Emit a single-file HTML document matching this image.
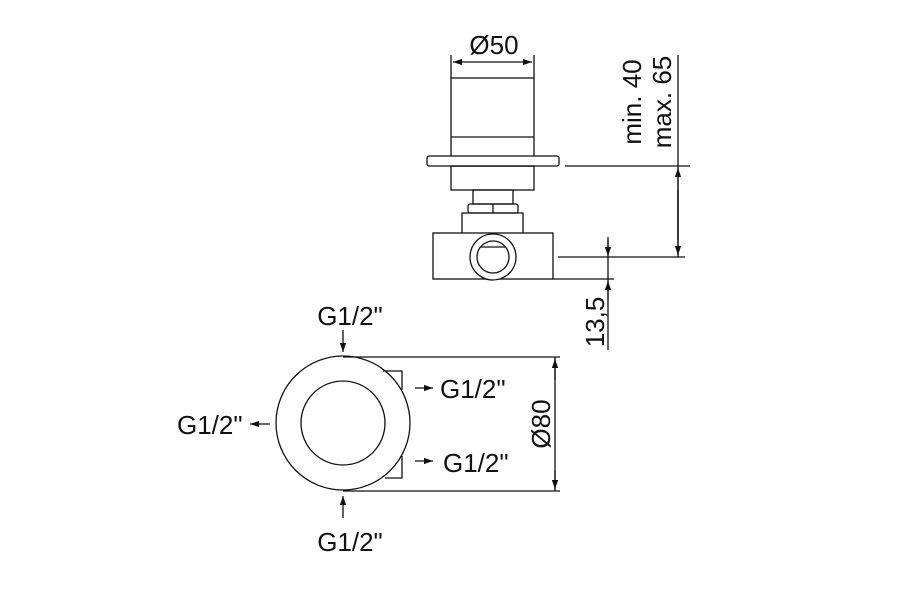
<!DOCTYPE html>
<html><head><style>body{margin:0;background:#fff}svg{display:block}text{font-family:"Liberation Sans",sans-serif;fill:#111}</style></head><body>
<svg width="900" height="600" viewBox="0 0 900 600" xmlns="http://www.w3.org/2000/svg">
<defs><marker id="a" viewBox="0 0 10 10" refX="10" refY="5" markerWidth="7" markerHeight="7" orient="auto-start-reverse"><path d="M0,1.5 L10,5 L0,8.5 z" fill="#111"/></marker></defs>
<g stroke="#111" stroke-width="1.3" fill="none">
<line x1="451" y1="55" x2="451" y2="78"/><line x1="534" y1="55" x2="534" y2="78"/>
<line x1="453" y1="62" x2="532" y2="62" marker-start="url(#a)" marker-end="url(#a)"/>
<rect x="451" y="78" width="83" height="88"/>
<line x1="451" y1="137" x2="534" y2="137"/>
<rect x="427" y="156" width="132" height="10" rx="2" fill="#fff"/>
<rect x="451" y="166" width="83" height="24"/>
<rect x="473" y="190" width="40" height="14"/>
<rect x="468" y="204" width="50" height="9" rx="2"/>
<line x1="493" y1="204" x2="493" y2="213"/>
<path d="M462,233 V213 H523 V233"/>
<rect x="433" y="233" width="120" height="46"/>
<circle cx="493" cy="257" r="23" fill="#fff"/>
<circle cx="493" cy="257" r="16"/>
<line x1="480" y1="247" x2="506" y2="247"/>
<line x1="565" y1="166" x2="690" y2="166"/>
<line x1="558" y1="257" x2="685" y2="257"/>
<line x1="678" y1="55" x2="678" y2="257"/>
<line x1="678" y1="240" x2="678" y2="168" marker-end="url(#a)"/>
<line x1="678" y1="190" x2="678" y2="255" marker-end="url(#a)"/>
<line x1="553" y1="279" x2="614" y2="279"/>
<line x1="608" y1="237" x2="608" y2="350"/>
<line x1="608" y1="240" x2="608" y2="256" marker-end="url(#a)"/>
<line x1="608" y1="300" x2="608" y2="281" marker-end="url(#a)"/>
<circle cx="343" cy="423" r="67"/>
<circle cx="343" cy="423" r="42"/>
<line x1="343" y1="357" x2="560" y2="357"/>
<line x1="343" y1="491" x2="560" y2="491"/>
<line x1="555" y1="357" x2="555" y2="491"/>
<line x1="555" y1="380" x2="555" y2="359" marker-end="url(#a)"/>
<line x1="555" y1="470" x2="555" y2="489" marker-end="url(#a)"/>
<path d="M383,371 H402 V390"/>
<path d="M402,456 V478 H385"/>
<line x1="343" y1="330" x2="343" y2="352" marker-end="url(#a)"/>
<line x1="343" y1="518" x2="343" y2="496" marker-end="url(#a)"/>
<line x1="415" y1="388" x2="433" y2="388" marker-end="url(#a)"/>
<line x1="415" y1="461" x2="433" y2="461" marker-end="url(#a)"/>
<line x1="270" y1="424" x2="250" y2="424" marker-end="url(#a)"/>
</g>
<g font-size="26">
<text x="494" y="54" text-anchor="middle">Ø50</text>
<text transform="translate(641,102) rotate(-90)" text-anchor="middle">min. 40</text>
<text transform="translate(671,102) rotate(-90)" text-anchor="middle">max. 65</text>
<text transform="translate(604,322) rotate(-90)" text-anchor="middle">13,5</text>
<text x="350" y="325" text-anchor="middle">G1/2"</text>
<text x="350" y="551" text-anchor="middle">G1/2"</text>
<text x="440" y="398">G1/2"</text>
<text x="443" y="472">G1/2"</text>
<text x="177" y="434">G1/2"</text>
<text transform="translate(550,424) rotate(-90)" text-anchor="middle">Ø80</text>
</g>
</svg>
</body></html>
